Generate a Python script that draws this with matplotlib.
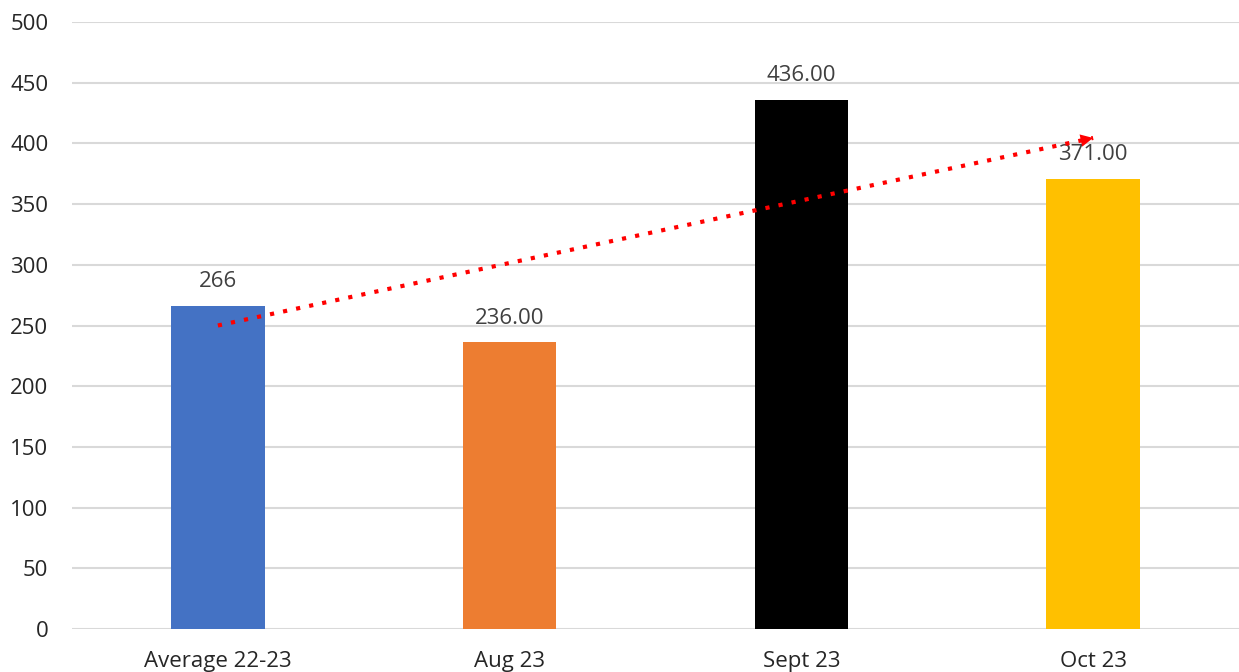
import numpy as np
import matplotlib.pyplot as plt

categories = ["Average 22-23", "Aug 23", "Sept 23", "Oct 23"]
values = [266, 236, 436, 371]
value_labels = ["266", "236.00", "436.00", "371.00"]
bar_colors = ["#4472C4", "#ED7D31", "#000000", "#FFC000"]

plt.rcParams['font.family'] = ['Open Sans', 'DejaVu Sans']

fig = plt.figure(figsize=(12.39, 6.72), dpi=100)
ax = fig.add_axes([72 / 1239, 1 - 629 / 672, 1 - 72 / 1239, 607 / 672])

x = np.arange(len(categories))
bars = ax.bar(x, values, width=0.32, color=bar_colors, zorder=2)

for b, lab in zip(bars, value_labels):
    ax.annotate(lab, (b.get_x() + b.get_width() / 2, b.get_height()),
                xytext=(0, 10), textcoords="offset points",
                ha="center", va="bottom", fontsize=16, color="#404040", zorder=3)

# linear trendline with an arrow at its end
slope, intercept = np.polyfit(x, values, 1)
trend = slope * x + intercept
ax.plot([x[0], x[-1]], [trend[0], trend[-1]], linestyle=(0, (1, 2.2)),
        color="#FF0000", linewidth=3, zorder=4)
ax.annotate("", xy=(x[-1], trend[-1]), xytext=(x[-1] - 0.08, trend[-1] - 0.08 * slope),
            arrowprops=dict(arrowstyle="-|>,head_length=0.9,head_width=0.45",
                            color="#FF0000", linewidth=0, shrinkA=0, shrinkB=0),
            zorder=4)

ax.set_xlim(-0.5, 3.5)
ax.set_ylim(0, 500)
ax.set_yticks(range(0, 501, 50))
ax.set_xticks(x)
ax.set_xticklabels(categories)
ax.grid(axis="y", color="#D9D9D9", linewidth=1.5, zorder=0)
for s in ax.spines.values():
    s.set_visible(False)
ax.tick_params(axis="both", length=0, labelsize=16, colors="#262626")
ax.tick_params(axis="y", pad=17)
ax.tick_params(axis="x", pad=16)

fig.savefig("out.png", dpi=100)
